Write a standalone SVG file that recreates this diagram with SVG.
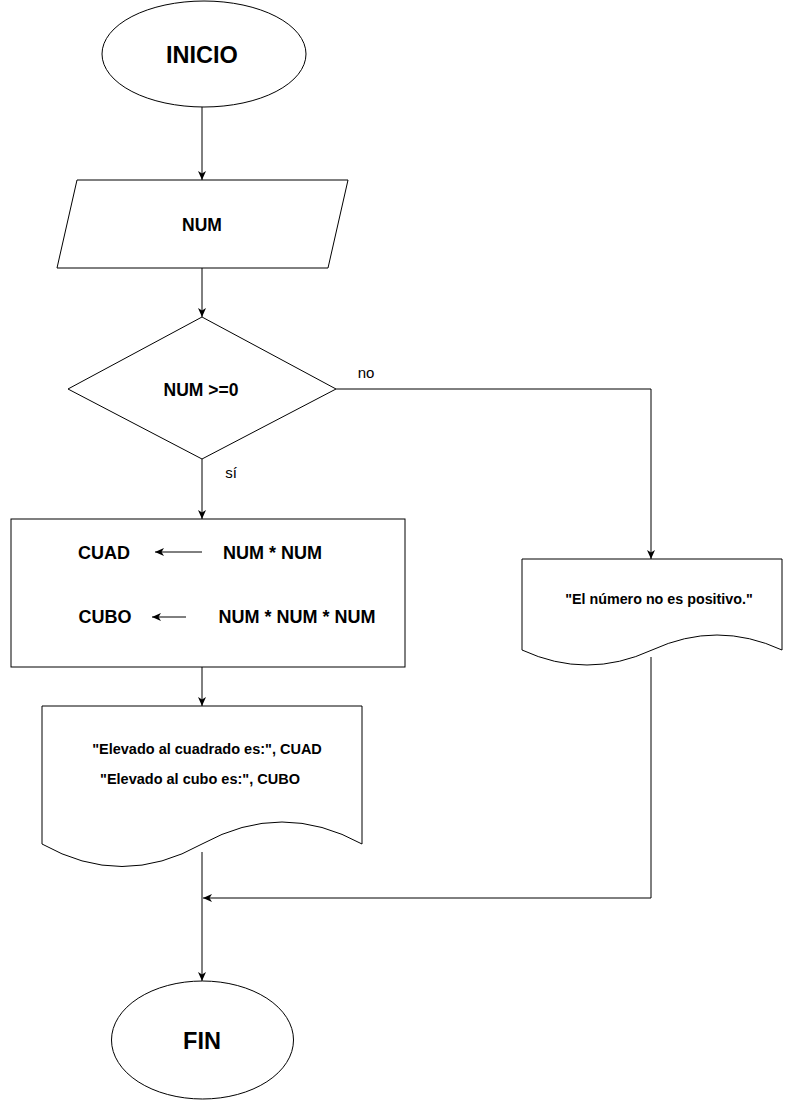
<svg xmlns="http://www.w3.org/2000/svg" width="795" height="1100" viewBox="0 0 795 1100">
<style>
.shape{fill:#fff;stroke:#000;stroke-width:1}
.edge{fill:none;stroke:#000;stroke-width:1}
.t{font-family:"Liberation Sans",Arial,Helvetica,sans-serif;font-weight:bold;fill:#000;text-anchor:middle}
.lbl{font-family:"Liberation Sans",Arial,Helvetica,sans-serif;fill:#000;text-anchor:middle;font-size:15px}
</style>
<defs>
<marker id="arr" markerWidth="10" markerHeight="10" viewBox="-10 -5 10 10" refX="0" refY="0" orient="auto" markerUnits="userSpaceOnUse">
<path d="M0,0 L-9,-4 L-6.5,0 L-9,4 Z" fill="#000"/>
</marker>
</defs>
<rect width="795" height="1100" fill="#fff"/>
<g id="connectors">
<path class="edge" d="M202,107 V180" marker-end="url(#arr)"/>
<path class="edge" d="M202,268 V317" marker-end="url(#arr)"/>
<path class="edge" d="M202,459 V519" marker-end="url(#arr)"/>
<path class="edge" d="M336,389 H651 V559" marker-end="url(#arr)"/>
<path class="edge" d="M202,667 V706" marker-end="url(#arr)"/>
<path class="edge" d="M651,657 V898 H203" marker-end="url(#arr)"/>
<path class="edge" d="M202,852 V981" marker-end="url(#arr)"/>
<text class="lbl" x="366" y="378">no</text>
<text class="lbl" x="231" y="478">sí</text>
</g>
<g id="inicio">
<ellipse class="shape" cx="204" cy="54" rx="102" ry="53"/>
<text class="t" x="202" y="63" font-size="23.5">INICIO</text>
</g>
<g id="entrada">
<polygon class="shape" points="77,180 348,180 328,268 57,268"/>
<text class="t" x="202" y="231" font-size="17.5">NUM</text>
</g>
<g id="decision">
<polygon class="shape" points="202,317 336,389 202,459 68,389"/>
<text class="t" x="201" y="396" font-size="17.5">NUM &gt;=0</text>
</g>
<g id="proceso">
<rect class="shape" x="11" y="519" width="394" height="148"/>
<text class="t" x="104" y="559" font-size="18">CUAD</text>
<path class="edge" d="M202,552 H155" marker-end="url(#arr)"/>
<text class="t" x="272.5" y="559" font-size="18">NUM * NUM</text>
<text class="t" x="105" y="623" font-size="18">CUBO</text>
<path class="edge" d="M186,617 H152" marker-end="url(#arr)"/>
<text class="t" x="297" y="623" font-size="18">NUM * NUM * NUM</text>
</g>
<g id="salida1">
<path class="shape" d="M42,706 L362,706 L362,844 Q282,800 202,844 Q122,889 42,844 Z"/>
<text class="t" x="207" y="754" font-size="14.5">"Elevado al cuadrado es:", CUAD</text>
<text class="t" x="200" y="784" font-size="14.5">"Elevado al cubo es:", CUBO</text>
</g>
<g id="salida2">
<path class="shape" d="M522,559 L782,559 L782,650 Q717,620 652,650 Q587,680 522,650 Z"/>
<text class="t" x="659" y="604" font-size="14.3">"El número no es positivo."</text>
</g>
<g id="fin">
<ellipse class="shape" cx="202.5" cy="1040" rx="91" ry="59"/>
<text class="t" x="202" y="1049" font-size="23.5">FIN</text>
</g>
</svg>
